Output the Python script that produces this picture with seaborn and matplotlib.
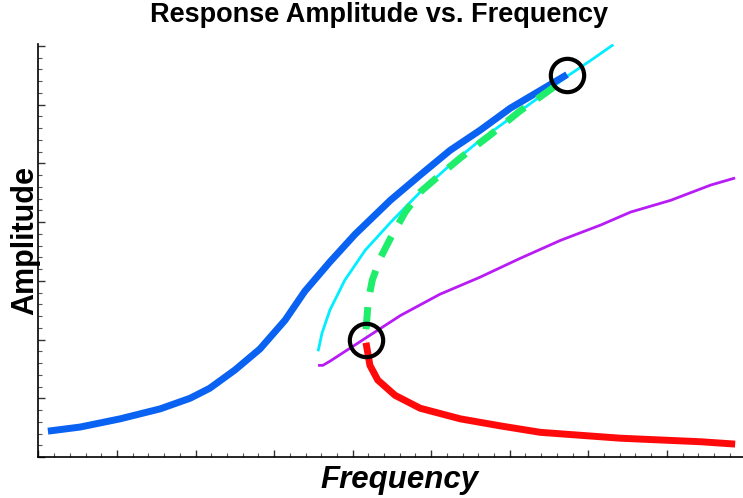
import numpy as np
import matplotlib
matplotlib.use("Agg")
import matplotlib.pyplot as plt
from matplotlib.ticker import MultipleLocator, NullFormatter
import seaborn as sns

sns.set_theme(style="white")
plt.rcParams["font.family"] = ["Liberation Sans", "DejaVu Sans"]
plt.rcParams["text.color"] = "black"
plt.rcParams["axes.labelcolor"] = "black"

# Stable upper branch (large-amplitude response)
upper_x = [0.12, 0.53, 1.04, 1.55, 1.93, 2.18, 2.50, 2.82, 3.14, 3.39, 3.71, 4.03, 4.48, 4.86, 5.24, 5.62, 6.01, 6.39, 6.73]
upper_y = [0.44, 0.51, 0.65, 0.82, 1.00, 1.17, 1.48, 1.84, 2.33, 2.82, 3.32, 3.79, 4.37, 4.80, 5.22, 5.56, 5.94, 6.24, 6.51]

# Backbone curve
backbone_x = [3.56, 3.61, 3.71, 3.90, 4.16, 4.48, 4.86, 5.24, 5.62, 6.01, 6.39, 6.73, 7.03, 7.32]
backbone_y = [1.80, 2.11, 2.50, 3.01, 3.52, 3.99, 4.51, 4.97, 5.39, 5.77, 6.14, 6.48, 6.75, 7.02]

# Unstable middle branch
unstable_x = [4.17, 4.17, 4.20, 4.25, 4.35, 4.48, 4.67, 4.86, 5.11, 5.37, 5.75, 6.13, 6.45, 6.70]
unstable_y = [2.02, 2.33, 2.67, 3.01, 3.38, 3.72, 4.17, 4.51, 4.80, 5.09, 5.48, 5.89, 6.19, 6.43]

# Stable lower branch (small-amplitude response)
lower_x = [4.17, 4.17, 4.22, 4.32, 4.54, 4.86, 5.37, 5.88, 6.39, 6.90, 7.41, 7.92, 8.43, 8.87]
lower_y = [1.99, 1.90, 1.56, 1.31, 1.05, 0.83, 0.65, 0.53, 0.42, 0.37, 0.32, 0.29, 0.26, 0.22]

# Linear reference response
linear_x = [3.56, 3.62, 3.71, 4.16, 4.61, 5.11, 5.62, 6.13, 6.65, 7.16, 7.54, 8.05, 8.56, 8.87]
linear_y = [1.56, 1.56, 1.63, 2.02, 2.41, 2.77, 3.06, 3.38, 3.69, 3.95, 4.17, 4.37, 4.63, 4.75]

# Bifurcation (saddle-node) points
jump_x = [4.17, 6.73]
jump_y = [2.00, 6.50]

fig = plt.figure(figsize=(7.43, 4.98), dpi=100)
ax = fig.add_axes([0.0518, 0.0823, 0.9482, 0.8293])

line_kw = dict(ax=ax, sort=False, solid_joinstyle="round", solid_capstyle="butt")
sns.lineplot(x=upper_x, y=upper_y, color="#0A62F2", lw=5, zorder=3, **line_kw)
sns.lineplot(x=backbone_x, y=backbone_y, color="#00EEFF", lw=2, zorder=2, **line_kw)
sns.lineplot(x=unstable_x, y=unstable_y, ax=ax, sort=False, color="#1EEE6A", lw=5, zorder=4,
             linestyle=(0, (3.2, 2.2)))
sns.lineplot(x=lower_x, y=lower_y, color="#FF0A0A", lw=5, zorder=3, **line_kw)
sns.lineplot(x=linear_x, y=linear_y, color="#B81CF5", lw=2, zorder=3, **line_kw)
ax.plot(jump_x, jump_y, linestyle="none", marker="o", ms=24, mfc="none",
        mec="black", mew=3, zorder=6)

ax.set_xlim(0, 8.97)
ax.set_ylim(0, 7.03)

for side in ("top", "right"):
    ax.spines[side].set_visible(False)
for side in ("left", "bottom"):
    ax.spines[side].set_color("black")
    ax.spines[side].set_linewidth(1.2)

ax.xaxis.set_major_locator(MultipleLocator(1))
ax.xaxis.set_minor_locator(MultipleLocator(0.2))
ax.yaxis.set_major_locator(MultipleLocator(1))
ax.yaxis.set_minor_locator(MultipleLocator(0.2))
ax.xaxis.set_major_formatter(NullFormatter())
ax.yaxis.set_major_formatter(NullFormatter())
ax.tick_params(which="major", direction="in", length=5, width=1, color="#333333",
               bottom=True, left=True)
ax.tick_params(which="minor", direction="in", length=3, width=0.8, color="#555555",
               bottom=True, left=True)

ax.set_xlabel("Frequency", fontsize=22.5, fontweight="bold", fontstyle="italic", labelpad=2)
ax.set_ylabel("Amplitude", fontsize=22, fontweight="bold", labelpad=-5)
ax.xaxis.label.set_x(0.512)
ax.yaxis.label.set_y(0.525)
fig.suptitle("Response Amplitude vs. Frequency", fontsize=19.5, fontweight="bold",
             x=0.51, y=0.995)

fig.savefig("out.png", dpi=100)
